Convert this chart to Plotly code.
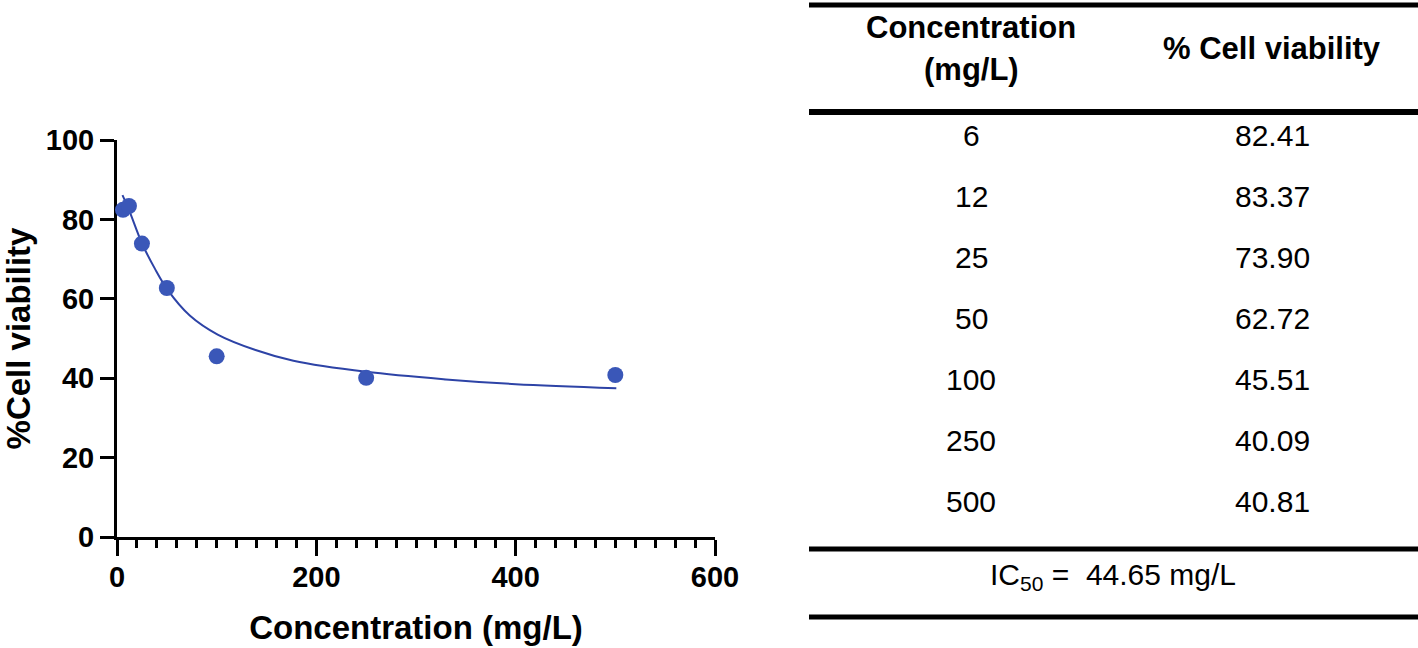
#
# Cell viability vs concentration, with results table
#

import plotly.graph_objects as go

W, H = 1418, 648

conc = [6, 12, 25, 50, 100, 250, 500]
viability = [82.41, 83.37, 73.90, 62.72, 45.51, 40.09, 40.81]

# fitted curve
fit_x = [5.5, 12, 25, 38, 51, 73, 101, 139, 177, 250, 330, 400, 501]
fit_y = [86.1, 82.4, 74.0, 67.6, 62.2, 55.8, 51.0, 47.1, 44.4, 41.6, 39.7, 38.5, 37.5]

x_ticks = [0, 200, 400, 600]
y_ticks = [0, 20, 40, 60, 80, 100]

col_headers = ["Concentration", "(mg/L)", "% Cell viability"]
ic50_text = "IC<sub>50</sub> =  44.65 mg/L"

FONT = "Liberation Sans, Arial, sans-serif"
DOT = "#3a57b8"
CURVE = "#2d43a6"


def px(x):
    return x / W


def py(y):
    return 1 - y / H


fig = go.Figure()

fig.add_trace(go.Scatter(x=fit_x, y=fit_y, mode="lines",
                         line=dict(color=CURVE, width=2), line_shape="spline",
                         hoverinfo="skip", showlegend=False))
fig.add_trace(go.Scatter(x=conc, y=viability, mode="markers",
                         marker=dict(color=DOT, size=16), cliponaxis=False,
                         showlegend=False))

fig.update_xaxes(
    domain=[px(117), px(715)], range=[0, 600], tickvals=x_ticks, automargin=False,
    showline=True, linecolor="black", linewidth=3, layer="below traces",
    ticks="outside", ticklen=16, tickwidth=3, tickcolor="black", ticklabelstandoff=-4,
    minor=dict(dtick=20, ticks="outside", ticklen=8, tickwidth=2.5, tickcolor="black"),
    showgrid=False, zeroline=False,
    tickfont=dict(family=FONT, size=29, color="black", weight="bold"),
    title=dict(text="Concentration (mg/L)", standoff=25,
               font=dict(family=FONT, size=33, color="black", weight="bold")),
)
fig.update_yaxes(
    domain=[py(537), py(140)], range=[0, 100], tickvals=y_ticks, automargin=False,
    showline=True, linecolor="black", linewidth=3, layer="below traces",
    ticks="outside", ticklen=14, tickwidth=3, tickcolor="black",
    showgrid=False, zeroline=False,
    tickfont=dict(family=FONT, size=29, color="black", weight="bold"),
    title=dict(text="%Cell viability", standoff=14,
               font=dict(family=FONT, size=33, color="black", weight="bold")),
)

# table rules
shapes = []
for y, w in [(5, 5), (112, 6), (549, 5), (617, 5)]:
    shapes.append(dict(type="line", xref="paper", yref="paper",
                       x0=px(809), x1=1, y0=py(y), y1=py(y),
                       line=dict(color="black", width=w)))

ann = []
ann.append(dict(text="<b>" + col_headers[0] + "</b>", x=px(971), y=py(28), size=31))
ann.append(dict(text="<b>" + col_headers[1] + "</b>", x=px(971), y=py(69), size=31))
ann.append(dict(text="<b>" + col_headers[2] + "</b>", x=px(1272), y=py(48), size=31))
row_y = [135, 196, 257, 318, 379, 440, 501]
for c, v, ry in zip(conc, viability, row_y):
    ann.append(dict(text=str(c), x=px(971), y=py(ry), size=30))
    ann.append(dict(text=f"{v:.2f}", x=px(1272), y=py(ry), size=30))
ann.append(dict(text=ic50_text, x=px(1113), y=py(576), size=30))
for a in ann:
    size = a.pop("size")
    a.update(xref="paper", yref="paper", showarrow=False,
             xanchor="center", yanchor="middle",
             font=dict(family=FONT, size=size, color="black"))

fig.update_layout(
    width=W, height=H, margin=dict(l=0, r=0, t=0, b=0),
    paper_bgcolor="white", plot_bgcolor="white",
    shapes=shapes, annotations=ann,
)

# page has a default body margin; drop it so the figure fills the window
fig.write_html("out.html", config={"displayModeBar": False},
               post_script="document.body.style.margin='0';document.body.style.overflow='hidden';")
